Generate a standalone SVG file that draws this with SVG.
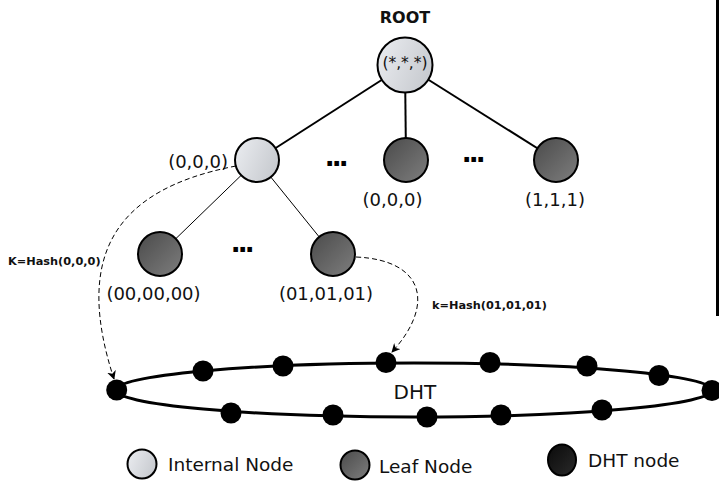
<svg xmlns="http://www.w3.org/2000/svg" width="719" height="483" viewBox="0 0 719 483">
<defs>
<linearGradient id="gInt" x1="0" y1="0.3" x2="1" y2="0.7">
<stop offset="0" stop-color="#e8eaee"/><stop offset="1" stop-color="#c6c9ce"/>
</linearGradient>
<linearGradient id="gLeaf" x1="0" y1="0" x2="1" y2="1">
<stop offset="0" stop-color="#4a4a4a"/><stop offset="1" stop-color="#7e7e7e"/>
</linearGradient>
<linearGradient id="gDht" x1="0" y1="0" x2="1" y2="1">
<stop offset="0" stop-color="#0a0a0a"/><stop offset="1" stop-color="#2a2a2a"/>
</linearGradient>
<marker id="arr" viewBox="0 0 10 10" refX="9" refY="5" markerWidth="9" markerHeight="9" markerUnits="userSpaceOnUse" orient="auto">
<path d="M0,0 L10,5 L0,10 L3,5 z" fill="#000"/>
</marker>
<style>
.int{fill:url(#gInt);stroke:#000;stroke-width:2}
.leaf{fill:url(#gLeaf);stroke:#000;stroke-width:2}
.dht{fill:#000}
.lbl{font-family:"DejaVu Sans",Verdana,sans-serif;font-size:18px;fill:#111}
.leg{font-family:"DejaVu Sans",Verdana,sans-serif;font-size:18.5px;fill:#111}
.key{font-family:"DejaVu Sans",sans-serif;font-weight:bold;font-size:11.3px;fill:#111}
.dots{font-family:"DejaVu Sans",sans-serif;font-weight:bold;font-size:26px;letter-spacing:-2.9px;fill:#000}
.thick{stroke:#000;stroke-width:2;fill:none}
.thin{stroke:#000;stroke-width:1;fill:none}
.dash{stroke:#000;stroke-width:1;fill:none;stroke-dasharray:5 3}
</style>
</defs>
<rect width="719" height="483" fill="#fff"/>

<g id="connectors">
<line class="thick" x1="405" y1="65" x2="257" y2="160"/>
<line class="thick" x1="405" y1="65" x2="406" y2="160"/>
<line class="thick" x1="405" y1="65" x2="556" y2="160"/>
<line class="thin" x1="257" y1="160" x2="160" y2="254"/>
<line class="thin" x1="257" y1="160" x2="333" y2="254"/>
<path class="dash" d="M236,166 C110,190 75,260 114,379" marker-end="url(#arr)"/>
<path class="dash" d="M356,257 C425,260 435,305 392,352" marker-end="url(#arr)"/>
</g>

<g id="root">
<text x="405" y="23" text-anchor="middle" font-family="DejaVu Sans,sans-serif" font-weight="bold" font-size="16" fill="#111">ROOT</text>
<circle class="int" cx="405" cy="65" r="27.5"/>
<text x="405" y="68" text-anchor="middle" font-family="DejaVu Sans,sans-serif" font-size="15.5" fill="#111">(*,*,*)</text>
</g>
<g id="internal-000">
<circle class="int" cx="257" cy="160" r="22"/>
<text class="lbl" x="228" y="167.5" text-anchor="end">(0,0,0)</text>
</g>
<g id="leaf-000">
<circle class="leaf" cx="406" cy="160" r="22"/>
<text class="lbl" x="392.5" y="206" text-anchor="middle">(0,0,0)</text>
</g>
<g id="leaf-111">
<circle class="leaf" cx="556" cy="160" r="22"/>
<text class="lbl" x="555" y="206" text-anchor="middle">(1,1,1)</text>
</g>
<g id="leaf-000000">
<circle class="leaf" cx="160" cy="254" r="22"/>
<text class="lbl" x="153.5" y="299.5" text-anchor="middle">(00,00,00)</text>
</g>
<g id="leaf-010101">
<circle class="leaf" cx="333" cy="254" r="22"/>
<text class="lbl" x="326" y="299.5" text-anchor="middle">(01,01,01)</text>
</g>
<g id="ellipses">
<text class="dots" x="324.7" y="166">...</text>
<text class="dots" x="461.7" y="162">...</text>
<text class="dots" x="230.7" y="252">...</text>
</g>
<g id="hash-labels">
<text class="key" x="8" y="265">K=Hash(0,0,0)</text>
<text class="key" x="432" y="309">k=Hash(01,01,01)</text>
</g>

<g id="dht-ring">
<ellipse cx="414" cy="390" rx="298" ry="27" fill="none" stroke="#000" stroke-width="3"/>
<text x="393.5" y="399" font-family="DejaVu Sans,sans-serif" font-size="20" fill="#111">DHT</text>
<circle class="dht" cx="116.7" cy="390" r="10.5"/>
<circle class="dht" cx="203" cy="371" r="10.5"/>
<circle class="dht" cx="283" cy="366" r="10.5"/>
<circle class="dht" cx="386" cy="362.5" r="10.5"/>
<circle class="dht" cx="490" cy="362.5" r="10.5"/>
<circle class="dht" cx="587" cy="366" r="10.5"/>
<circle class="dht" cx="659" cy="375.5" r="10.5"/>
<circle class="dht" cx="712" cy="390.5" r="10.5"/>
<circle class="dht" cx="231" cy="413" r="10.5"/>
<circle class="dht" cx="333" cy="415" r="10.5"/>
<circle class="dht" cx="427" cy="417" r="10.5"/>
<circle class="dht" cx="501" cy="415" r="10.5"/>
<circle class="dht" cx="602" cy="410" r="10.5"/>
</g>

<g id="legend-internal">
<circle class="int" cx="142" cy="464" r="14.5"/>
<text class="leg" x="168" y="471">Internal Node</text>
</g>
<g id="legend-leaf">
<circle class="leaf" cx="355" cy="465" r="14.5"/>
<text class="leg" x="379" y="473">Leaf Node</text>
</g>
<g id="legend-dht">
<ellipse cx="562" cy="460" rx="14" ry="15.5" fill="url(#gDht)" stroke="#000" stroke-width="2"/>
<text class="leg" x="588" y="467">DHT node</text>
</g>

<rect id="edge-bar" x="716" y="0" width="3" height="316" fill="#000"/>
</svg>
